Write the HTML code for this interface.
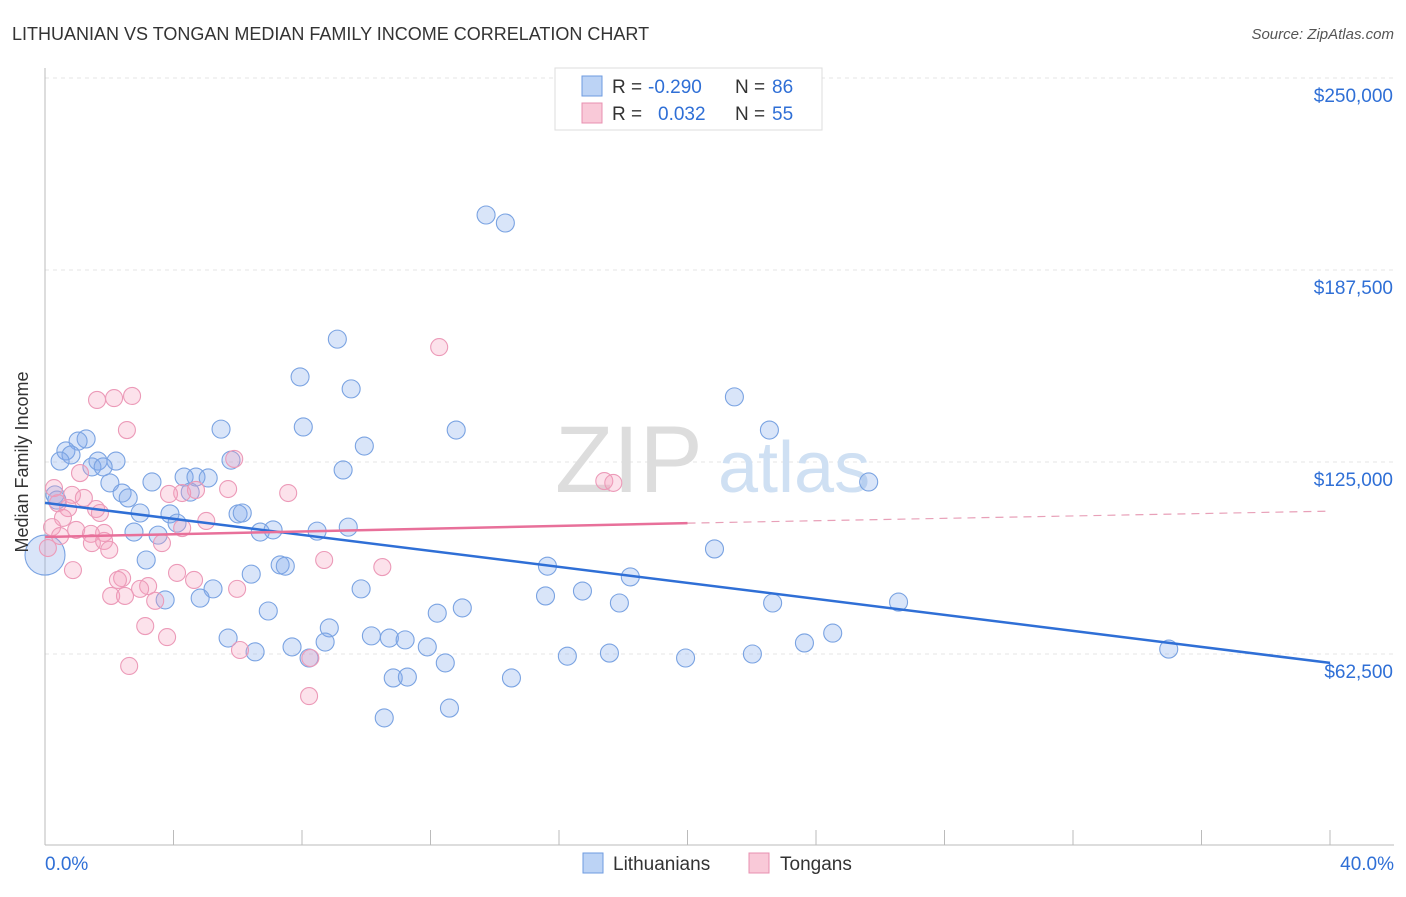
<!DOCTYPE html>
<html><head><meta charset="utf-8"><style>
body{margin:0;background:#fff;font-family:"Liberation Sans",sans-serif;}
svg text{font-family:"Liberation Sans",sans-serif;}
</style></head><body>
<svg id="chart" width="1406" height="892" xmlns="http://www.w3.org/2000/svg">
<text x="12" y="40" font-size="18" fill="#333">LITHUANIAN VS TONGAN MEDIAN FAMILY INCOME CORRELATION CHART</text>
<text x="1394" y="39" font-size="15" fill="#555" font-style="italic" text-anchor="end">Source: ZipAtlas.com</text>
<g id="grid"></g>
<g id="axes"></g>
<text x="555" y="492" font-size="95" fill="#ddd" font-family="Liberation Serif">ZIP</text>
<text x="718" y="492" font-size="72" fill="#cfe0f3">atlas</text>
<g id="pts"></g>
<g id="trends"></g>
<g>
<rect x="555" y="68" width="267" height="62" fill="#fff" stroke="#ddd"/>
<rect x="582" y="76" width="20" height="20" fill="#bcd3f5" stroke="#6e9be0"/>
<rect x="582" y="103" width="20" height="20" fill="#f9c9d8" stroke="#e890b0"/>
<text x="612" y="93" font-size="19" fill="#333">R =</text>
<text x="648" y="93" font-size="19" fill="#2f6fd6">-0.290</text>
<text x="735" y="93" font-size="19" fill="#333">N =</text>
<text x="772" y="93" font-size="19" fill="#2f6fd6">86</text>
<text x="612" y="120" font-size="19" fill="#333">R =</text>
<text x="658" y="120" font-size="19" fill="#2f6fd6">0.032</text>
<text x="735" y="120" font-size="19" fill="#333">N =</text>
<text x="772" y="120" font-size="19" fill="#2f6fd6">55</text>
</g>
<g>
<rect x="583" y="853" width="20" height="20" fill="#bcd3f5" stroke="#6e9be0"/>
<text x="613" y="870" font-size="19" fill="#333">Lithuanians</text>
<rect x="749" y="853" width="20" height="20" fill="#f9c9d8" stroke="#e890b0"/>
<text x="780" y="870" font-size="19" fill="#333">Tongans</text>
</g>
<text x="22" y="456" font-size="18" fill="#333" text-anchor="middle" transform="rotate(-90 28 456)">Median Family Income</text>
<text x="45" y="870" font-size="19" fill="#2f6fd6">0.0%</text>
<text x="1394" y="870" font-size="19" fill="#2f6fd6" text-anchor="end">40.0%</text>
</svg>
<script>
const yTicks=[62500,125000,187500,250000];
const yTickLabels=["$62,500","$125,000","$187,500","$250,000"];
const blueX=[13.73,14.33,9.10,7.94,9.53,21.46,5.48,8.04,12.80,22.55,9.94,1.28,1.03,0.65,0.81,0.47,1.65,2.21,1.46,1.81,5.79,9.28,4.33,4.70,5.08,3.33,2.02,25.64,4.52,2.40,2.59,0.31,0.37,2.96,3.89,6.01,6.14,4.11,2.77,3.52,6.70,7.10,8.47,9.44,0,3.15,20.84,7.32,7.48,15.64,6.42,18.22,9.84,5.23,16.73,15.58,3.74,4.83,17.88,22.65,26.57,12.99,6.95,12.21,8.85,24.52,5.70,10.16,10.72,11.21,8.72,23.64,7.69,11.90,6.54,34.98,16.26,17.57,22.02,19.94,8.22,12.46,10.84,11.28,14.52,12.59,10.56];
const blueY=[205.4,202.8,165.0,152.7,148.8,146.2,135.7,136.4,135.4,135.4,130.2,132.5,131.8,128.6,127.3,125.3,125.3,125.3,123.4,123.4,125.6,122.4,120.1,120.1,119.8,118.5,118.2,118.5,115.2,114.9,113.3,114.3,112.6,108.4,108.1,108.1,108.4,105.1,102.2,101.2,102.2,102.9,102.5,103.8,94.7,93.1,96.7,91.5,91.1,91.1,88.5,87.6,83.7,83.7,83.0,81.4,80.1,80.7,79.1,79.1,79.4,77.5,76.5,75.8,71.0,69.3,67.7,68.4,67.7,67.1,66.4,66.1,64.8,64.8,63.2,64.1,61.8,62.8,62.5,61.2,61.2,59.6,54.7,55.0,54.7,44.9,41.7];
const pinkX=[12.27,2.71,2.15,1.62,2.55,5.89,17.41,17.69,0.28,1.09,4.70,4.27,3.86,5.70,7.57,0.84,1.21,0.40,0.72,1.59,1.71,0.56,5.02,0.22,0.97,1.84,1.43,0.47,4.27,3.64,1.46,1.84,2.00,0.09,8.69,0.87,4.11,10.50,2.40,2.27,4.64,3.21,2.96,5.98,2.06,2.49,3.43,3.12,3.80,6.07,8.26,2.62,8.22];
const pinkY=[162.4,146.5,145.8,145.2,135.4,126.0,118.8,118.2,116.5,121.4,115.9,114.9,114.6,116.2,114.9,114.3,113.3,111.6,110.0,109.7,108.4,106.8,105.8,103.8,102.9,101.9,101.6,100.9,103.5,98.6,98.6,99.3,96.4,97.0,93.1,89.8,88.9,90.8,87.2,86.6,86.6,84.6,83.7,83.7,81.4,81.4,79.8,71.6,68.0,63.8,61.2,58.6,48.8];
const blueTrend=[111.7,59.6];
const pinkTrend=[100.6,105.1,109.0];
const NS="http://www.w3.org/2000/svg";
const xs=p=>45+p*32.125;
const ys=v=>654-(v-62500)/62500*192;
const yk=k=>ys(k*1000);
function mk(tag,attrs,parent){const e=document.createElementNS(NS,tag);for(const k in attrs)e.setAttribute(k,attrs[k]);parent.appendChild(e);return e;}
const grid=document.getElementById('grid'),axes=document.getElementById('axes'),pts=document.getElementById('pts'),tr=document.getElementById('trends');
yTicks.forEach((t,i)=>{
 const l=mk('line',{x1:45,x2:1394,y1:ys(t),y2:ys(t),stroke:'#e4e4e4','stroke-dasharray':'4 4'},grid);
 
 
 const tx=mk('text',{x:1393,y:ys(t)+24,'font-size':19,fill:'#2f6fd6','text-anchor':'end'},axes);
 tx.textContent=yTickLabels[i];
 
 
});
mk('line',{x1:45,x2:45,y1:68,y2:845,stroke:'#bbb'},axes);
mk('line',{x1:45,x2:1394,y1:845,y2:845,stroke:'#bbb'},axes);
for(let i=1;i<=10;i++){
 const t=mk('line',{x1:xs(i*4),x2:xs(i*4),y1:830,y2:845,stroke:'#bbb'},axes);
 
 
}
blueX.forEach((x,i)=>{
 const big=(x===0);
 const c=mk('circle',{cx:xs(x),cy:yk(blueY[i]),r:big?20:9,fill:'rgba(130,170,235,0.3)',stroke:'#7aa3e2','stroke-width':1.1},pts);
 
 
});
pinkX.forEach((x,i)=>{
 const c=mk('circle',{cx:xs(x),cy:yk(pinkY[i]),r:8.5,fill:'rgba(245,160,190,0.3)',stroke:'#ec9ab8','stroke-width':1.1},pts);
 
 
});
const bl=mk('line',{x1:xs(0),y1:yk(blueTrend[0]),x2:xs(40),y2:yk(blueTrend[1]),stroke:'#2f6fd6','stroke-width':2.5},tr);


const pl=mk('line',{x1:xs(0),y1:yk(pinkTrend[0]),x2:xs(20),y2:yk(pinkTrend[1]),stroke:'#e8709a','stroke-width':2.5},tr);


const pd=mk('line',{x1:xs(20),y1:yk(pinkTrend[1]),x2:xs(40),y2:yk(pinkTrend[2]),stroke:'#e8a0b8','stroke-width':1.2,'stroke-dasharray':'8 6'},tr);


</script>
</body></html>
